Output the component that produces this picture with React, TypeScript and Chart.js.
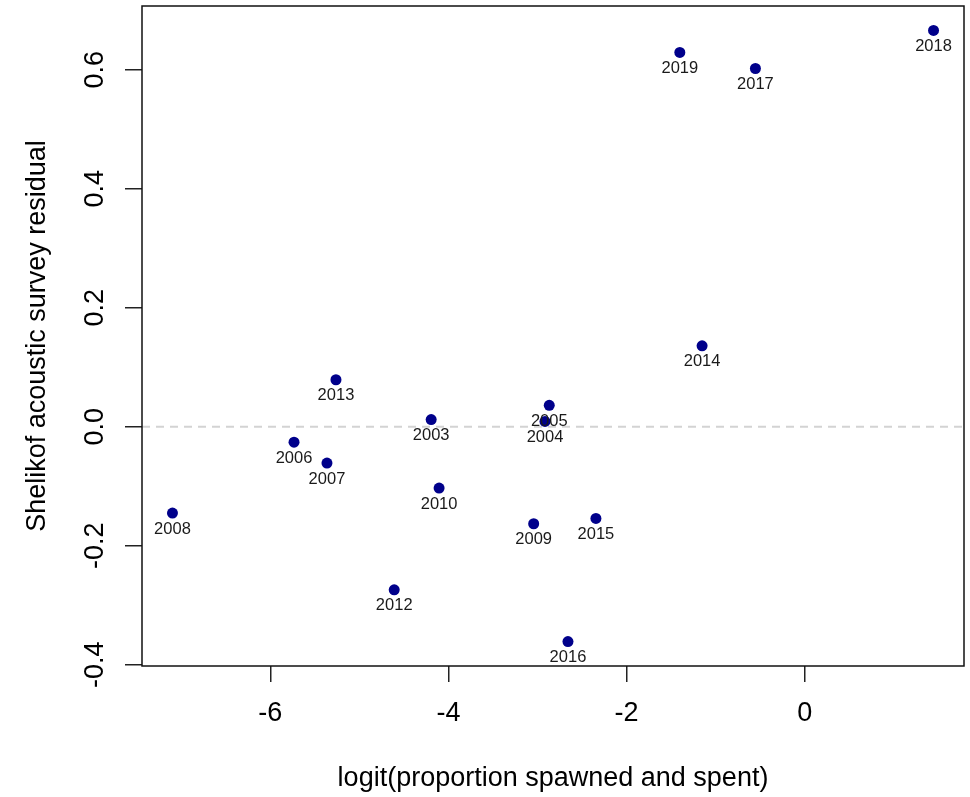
import { useEffect, useRef } from 'react';
import { Chart, registerables } from 'chart.js';

Chart.register(...registerables);

// Survey years and their values
const years = ['2003', '2004', '2005', '2006', '2007', '2008', '2009', '2010', '2012', '2013', '2014', '2015', '2016', '2017', '2018', '2019'];
const logitSpawned = [-4.194, -2.916, -2.868, -5.734, -5.364, -7.099, -3.043, -4.105, -4.609, -5.263, -1.152, -2.344, -2.658, -0.553, 1.447, -1.402];
const surveyResidual = [0.012, 0.009, 0.036, -0.026, -0.061, -0.145, -0.163, -0.103, -0.274, 0.079, 0.136, -0.154, -0.361, 0.602, 0.666, 0.629];

// Axis ticks and limits
const xTickValues = [-6, -4, -2, 0];
const yTickValues = [-0.4, -0.2, 0, 0.2, 0.4, 0.6];
const xLimits = [-7.441, 1.789];
const yLimits = [-0.402, 0.707];

const xAxisTitle = 'logit(proportion spawned and spent)';
const yAxisTitle = 'Shelikof acoustic survey residual';

const FONT = '"Liberation Sans", Arial, Helvetica, sans-serif';
const AXIS_FONT_SIZE = 27;

const plotDecorations = {
  id: 'plotDecorations',
  beforeDraw(chart: any) {
    const { ctx, width, height } = chart;
    ctx.save();
    ctx.fillStyle = '#ffffff';
    ctx.fillRect(0, 0, width, height);
    ctx.restore();
  },
  afterDatasetsDraw(chart: any) {
    const { ctx, chartArea } = chart;
    const meta = chart.getDatasetMeta(1);
    ctx.save();
    // year labels under each point
    ctx.fillStyle = '#1a1a1a';
    ctx.font = `16.5px ${FONT}`;
    ctx.textAlign = 'center';
    ctx.textBaseline = 'middle';
    meta.data.forEach((pt: any, i: number) => {
      ctx.fillText(years[i], pt.x, pt.y + 16);
    });
    // frame around the plotting region
    ctx.strokeStyle = '#111111';
    ctx.lineWidth = 1.5;
    ctx.strokeRect(chartArea.left, chartArea.top, chartArea.right - chartArea.left, chartArea.bottom - chartArea.top);
    ctx.restore();
  },
  afterDraw(chart: any) {
    const { ctx, chartArea } = chart;
    const yScale = chart.scales.y;
    ctx.save();
    ctx.fillStyle = '#000000';
    ctx.font = `${AXIS_FONT_SIZE}px ${FONT}`;
    ctx.textAlign = 'center';
    ctx.textBaseline = 'alphabetic';
    // y tick labels, written parallel to the axis
    yTickValues.forEach((v) => {
      const py = yScale.getPixelForValue(v);
      ctx.save();
      ctx.translate(chartArea.left - 39, py);
      ctx.rotate(-Math.PI / 2);
      ctx.fillText(v.toFixed(1), 0, 0);
      ctx.restore();
    });
    // axis titles
    ctx.save();
    ctx.translate(45, (chartArea.top + chartArea.bottom) / 2);
    ctx.rotate(-Math.PI / 2);
    ctx.fillText(yAxisTitle, 0, 0);
    ctx.restore();
    ctx.fillText(xAxisTitle, (chartArea.left + chartArea.right) / 2, 786);
    ctx.restore();
  },
};

export default function App() {
  const canvasRef = useRef<HTMLCanvasElement>(null);

  useEffect(() => {
    document.body.style.margin = '0';
    const canvas = canvasRef.current;
    if (!canvas) return;

    const points = logitSpawned.map((x, i) => ({ x, y: surveyResidual[i] }));

    const chart = new Chart(canvas, {
      type: 'scatter',
      data: {
        datasets: [
          {
            type: 'line',
            data: [
              { x: xLimits[0], y: 0 },
              { x: xLimits[1], y: 0 },
            ],
            borderColor: '#d3d3d3',
            borderWidth: 2,
            borderDash: [8, 6],
            pointRadius: 0,
            fill: false,
            order: 2,
          } as any,
          {
            type: 'scatter',
            data: points,
            backgroundColor: '#00008b',
            borderColor: '#00008b',
            borderWidth: 0,
            pointRadius: 5.5,
            pointHoverRadius: 5.5,
            order: 1,
          },
        ],
      },
      options: {
        responsive: false,
        animation: false,
        devicePixelRatio: 1,
        layout: { padding: { left: 0, right: 6, top: 6, bottom: 0 } },
        plugins: {
          legend: { display: false },
          tooltip: { enabled: false },
        },
        events: [],
        scales: {
          x: {
            type: 'linear',
            min: xLimits[0],
            max: xLimits[1],
            afterBuildTicks: (scale: any) => {
              scale.ticks = xTickValues.map((v) => ({ value: v }));
            },
            afterFit: (scale: any) => {
              scale.height = 131;
            },
            border: { display: false },
            grid: {
              drawOnChartArea: false,
              drawTicks: true,
              tickLength: 16,
              color: '#222222',
              lineWidth: 1.5,
            },
            ticks: {
              color: '#000000',
              font: { family: FONT, size: AXIS_FONT_SIZE },
              padding: 15,
              maxRotation: 0,
              minRotation: 0,
              autoSkip: false,
              callback: (v: any) => String(v),
            },
          },
          y: {
            type: 'linear',
            min: yLimits[0],
            max: yLimits[1],
            afterBuildTicks: (scale: any) => {
              scale.ticks = yTickValues.map((v) => ({ value: v }));
            },
            afterFit: (scale: any) => {
              scale.width = 142;
            },
            border: { display: false },
            grid: {
              drawOnChartArea: false,
              drawTicks: true,
              tickLength: 17,
              color: '#222222',
              lineWidth: 1.5,
            },
            ticks: {
              display: false,
            },
          },
        },
      },
      plugins: [plotDecorations],
    });

    return () => chart.destroy();
  }, []);

  return (
    <div style={{ position: 'absolute', left: 0, top: 0, width: 970, height: 797, background: '#ffffff' }}>
      <canvas ref={canvasRef} width={970} height={797} style={{ display: 'block', width: 970, height: 797 }} />
    </div>
  );
}
